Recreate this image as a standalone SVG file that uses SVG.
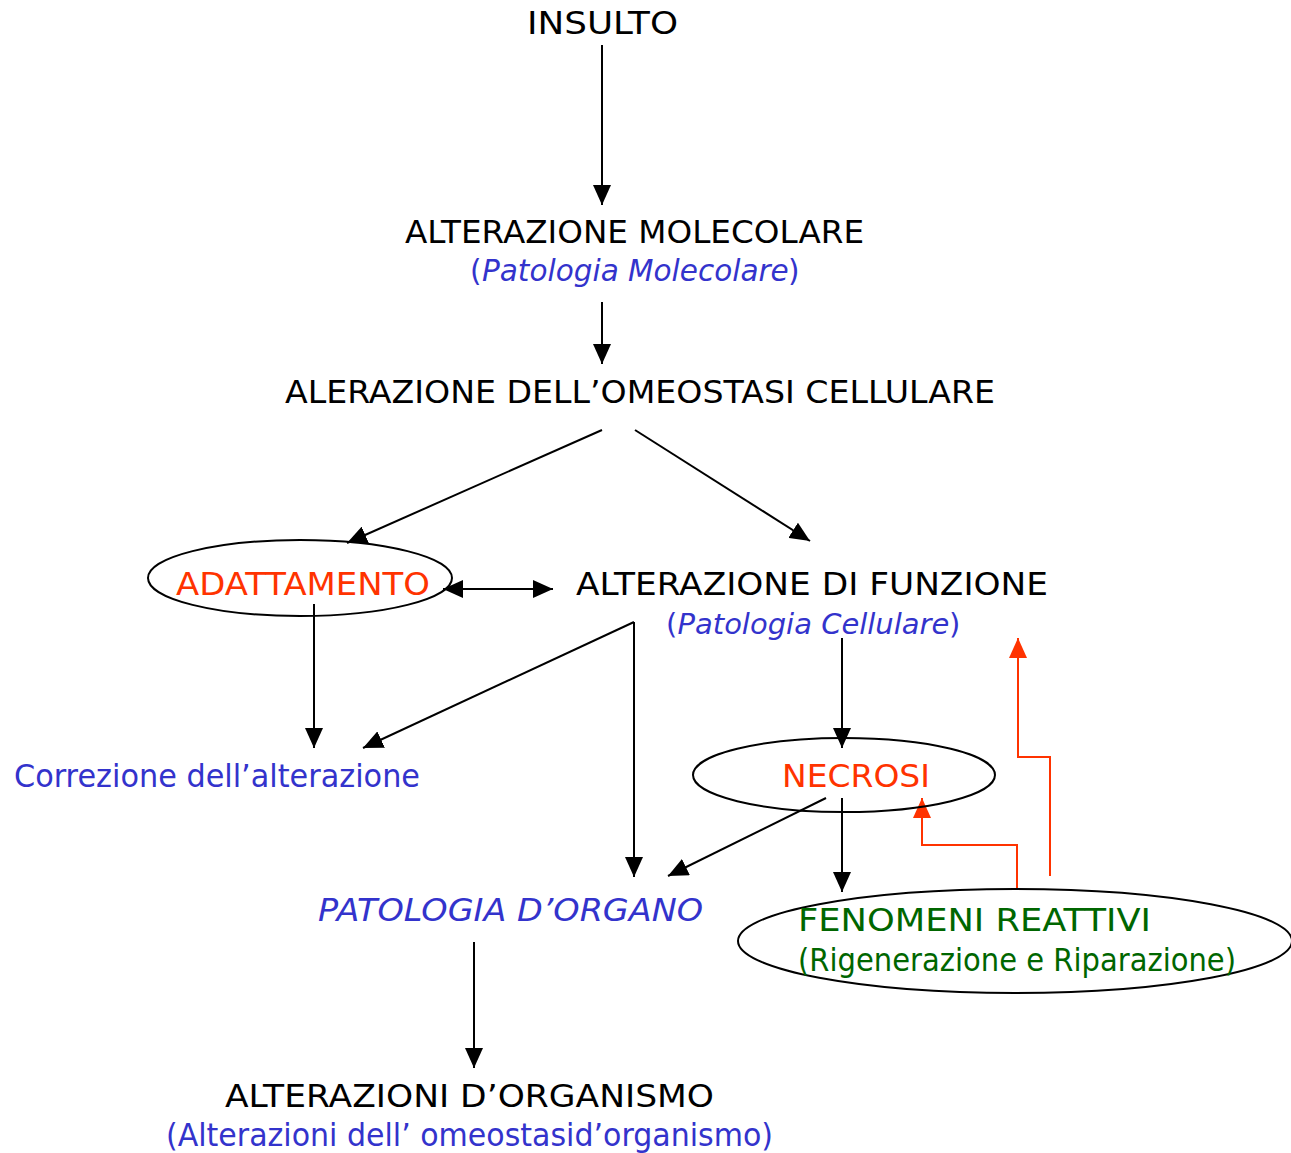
<svg xmlns="http://www.w3.org/2000/svg" width="1291" height="1153" viewBox="0 0 1291 1153">
<style>
text{font-family:"DejaVu Sans","Liberation Sans",sans-serif;font-size:32px}
.k{fill:#000}
.b{fill:#3333CC}
.r{fill:#FF3300}
.g{fill:#006600}
.i{font-style:italic}
.e{fill:none;stroke:#000;stroke-width:2}
.c{fill:none;stroke:#000;stroke-width:2}
.cr{fill:none;stroke:#FF3300;stroke-width:2}
</style>
<defs>
<marker id="ah" markerUnits="userSpaceOnUse" markerWidth="22" markerHeight="18" refX="20" refY="9" orient="auto-start-reverse"><path d="M0,0 L20,9 L0,18 Z" fill="#000"/></marker>
<marker id="ahr" markerUnits="userSpaceOnUse" markerWidth="22" markerHeight="18" refX="20" refY="9" orient="auto"><path d="M0,0 L20,9 L0,18 Z" fill="#FF3300"/></marker>
</defs>
<g id="connectors">
<line class="c" x1="602" y1="45" x2="602" y2="205" marker-end="url(#ah)"/>
<line class="c" x1="602" y1="302" x2="602" y2="364" marker-end="url(#ah)"/>
<line class="c" x1="602" y1="430" x2="347" y2="543" marker-end="url(#ah)"/>
<line class="c" x1="635" y1="430" x2="810" y2="541" marker-end="url(#ah)"/>
<line class="c" x1="443" y1="589" x2="553" y2="589" marker-start="url(#ah)" marker-end="url(#ah)"/>
<line class="c" x1="314" y1="604" x2="314" y2="748" marker-end="url(#ah)"/>
<line class="c" x1="634" y1="622" x2="363" y2="748" marker-end="url(#ah)"/>
<line class="c" x1="634" y1="622" x2="634" y2="877" marker-end="url(#ah)"/>
<line class="c" x1="842" y1="638" x2="842" y2="748" marker-end="url(#ah)"/>
<line class="c" x1="826" y1="798" x2="668" y2="876" marker-end="url(#ah)"/>
<line class="c" x1="842" y1="798" x2="842" y2="892" marker-end="url(#ah)"/>
<line class="c" x1="474" y1="942" x2="474" y2="1068" marker-end="url(#ah)"/>
<polyline class="cr" points="1017,890 1017,845 922,845 922,798" marker-end="url(#ahr)"/>
<polyline class="cr" points="1050,876 1050,757 1018,757 1018,638" marker-end="url(#ahr)"/>
</g>
<g id="insulto"><text class="k" x="527" y="34" textLength="151" lengthAdjust="spacingAndGlyphs">INSULTO</text></g>
<g id="alterazione-molecolare">
<text class="k" x="405" y="243" textLength="459" lengthAdjust="spacingAndGlyphs">ALTERAZIONE MOLECOLARE</text>
<text class="b" x="470" y="281" style="font-size:29.5px">(</text>
<text class="b i" x="482" y="281" style="font-size:29.5px">Patologia Molecolare</text>
<text class="b" x="788" y="281" style="font-size:29.5px">)</text>
</g>
<g id="omeostasi"><text class="k" x="285" y="403" textLength="710" lengthAdjust="spacingAndGlyphs">ALERAZIONE DELL’OMEOSTASI CELLULARE</text></g>
<g id="adattamento">
<ellipse class="e" cx="300" cy="578" rx="152" ry="38"/>
<text class="r" x="176" y="595" textLength="254" lengthAdjust="spacingAndGlyphs">ADATTAMENTO</text>
</g>
<g id="alterazione-funzione">
<text class="k" x="576" y="595" textLength="472" lengthAdjust="spacingAndGlyphs">ALTERAZIONE DI FUNZIONE</text>
<text class="b" x="666" y="634" style="font-size:29px">(</text>
<text class="b i" x="677.5" y="634" style="font-size:29px">Patologia Cellulare</text>
<text class="b" x="949" y="634" style="font-size:29px">)</text>
</g>
<g id="correzione"><text class="b" x="14" y="787" textLength="406" lengthAdjust="spacingAndGlyphs">Correzione dell’alterazione</text></g>
<g id="necrosi">
<ellipse class="e" cx="844" cy="775" rx="151" ry="37"/>
<text class="r" x="782" y="787" textLength="148" lengthAdjust="spacingAndGlyphs">NECROSI</text>
</g>
<g id="patologia-organo"><text class="b i" x="318" y="921" textLength="385" lengthAdjust="spacingAndGlyphs">PATOLOGIA D’ORGANO</text></g>
<g id="fenomeni-reattivi">
<ellipse class="e" cx="1015" cy="941" rx="277" ry="52"/>
<text class="g" x="798" y="931" textLength="353" lengthAdjust="spacingAndGlyphs">FENOMENI REATTIVI</text>
<text class="g" x="798" y="971" textLength="438" lengthAdjust="spacingAndGlyphs">(Rigenerazione e Riparazione)</text>
</g>
<g id="alterazioni-organismo">
<text class="k" x="225" y="1107" textLength="489" lengthAdjust="spacingAndGlyphs">ALTERAZIONI D’ORGANISMO</text>
<text class="b" x="166" y="1146" textLength="607" lengthAdjust="spacingAndGlyphs">(Alterazioni dell’ omeostasid’organismo)</text>
</g>
</svg>
